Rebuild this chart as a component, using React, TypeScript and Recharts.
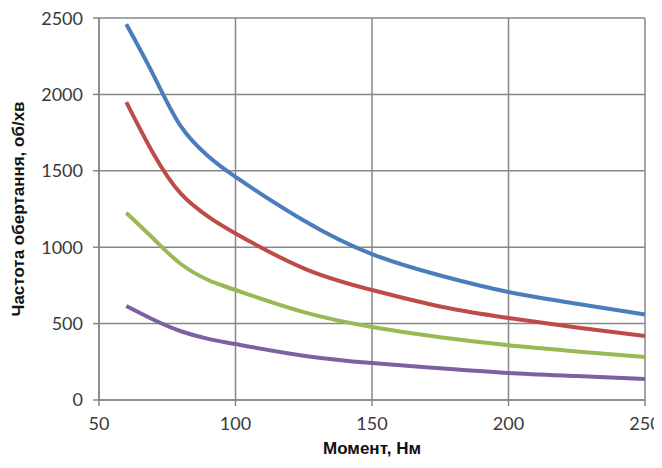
import React from "react";
import {
  LineChart,
  Line,
  XAxis,
  YAxis,
  CartesianGrid,
  Label,
} from "recharts";

// Torque values, N·m
const torque = [60, 70, 80, 90, 100, 125, 150, 175, 200, 225, 250];

// Rotation speed for each curve, rpm
const blueSpeed = [2460, 2125, 1790, 1595, 1460, 1175, 955, 815, 707, 630, 560];
const redSpeed = [1950, 1610, 1350, 1200, 1090, 862, 720, 612, 537, 475, 419];
const greenSpeed = [1225, 1055, 890, 785, 720, 575, 478, 410, 358, 318, 281];
const purpleSpeed = [615, 525, 450, 400, 366, 290, 242, 208, 177, 157, 137];

const xTicks = [50, 100, 150, 200, 250];
const yTicks = [0, 500, 1000, 1500, 2000, 2500];

const data = torque.map((m, i) => ({
  m,
  blue: blueSpeed[i],
  red: redSpeed[i],
  green: greenSpeed[i],
  purple: purpleSpeed[i],
}));

const gridColor = "#878787";
const tickStyle = { fontFamily: "Lato, sans-serif", fontSize: 18, fill: "#3a3a3a" };
const titleStyle = {
  fontFamily: "'Liberation Sans', Arial, sans-serif",
  fontWeight: "bold",
  fontSize: 17,
  fill: "#111",
};

export default function App() {
  return (
    <div style={{ fontFamily: "Lato, sans-serif" }}>
      <LineChart
        width={654}
        height={452}
        data={data}
        margin={{ top: 10, right: 17, bottom: 30, left: 0 }}
      >
        <CartesianGrid stroke={gridColor} strokeWidth={1.5} />
        <XAxis
          dataKey="m"
          type="number"
          domain={[50, 250]}
          ticks={xTicks}
          height={30}
          stroke={gridColor}
          strokeWidth={1.5}
          tickSize={6}
          tickMargin={11}
          tick={tickStyle}
        >
          <Label value="Момент, Нм" position="bottom" offset={12} style={titleStyle} />
        </XAxis>
        <YAxis
          type="number"
          domain={[0, 2500]}
          ticks={yTicks}
          width={91}
          stroke={gridColor}
          strokeWidth={1.5}
          tickSize={6}
          tickMargin={10}
          tick={tickStyle}
        >
          <Label
            value="Частота обертання, об/хв"
            angle={-90}
            position="insideLeft"
            offset={10}
            style={{ ...titleStyle, textAnchor: "middle" }}
          />
        </YAxis>
        <Line type="natural" dataKey="blue" stroke="#4a7ebb" strokeWidth={4} dot={false} isAnimationActive={false} />
        <Line type="natural" dataKey="red" stroke="#be4b48" strokeWidth={4} dot={false} isAnimationActive={false} />
        <Line type="natural" dataKey="green" stroke="#98b954" strokeWidth={4} dot={false} isAnimationActive={false} />
        <Line type="natural" dataKey="purple" stroke="#7d60a0" strokeWidth={4} dot={false} isAnimationActive={false} />
      </LineChart>
    </div>
  );
}
